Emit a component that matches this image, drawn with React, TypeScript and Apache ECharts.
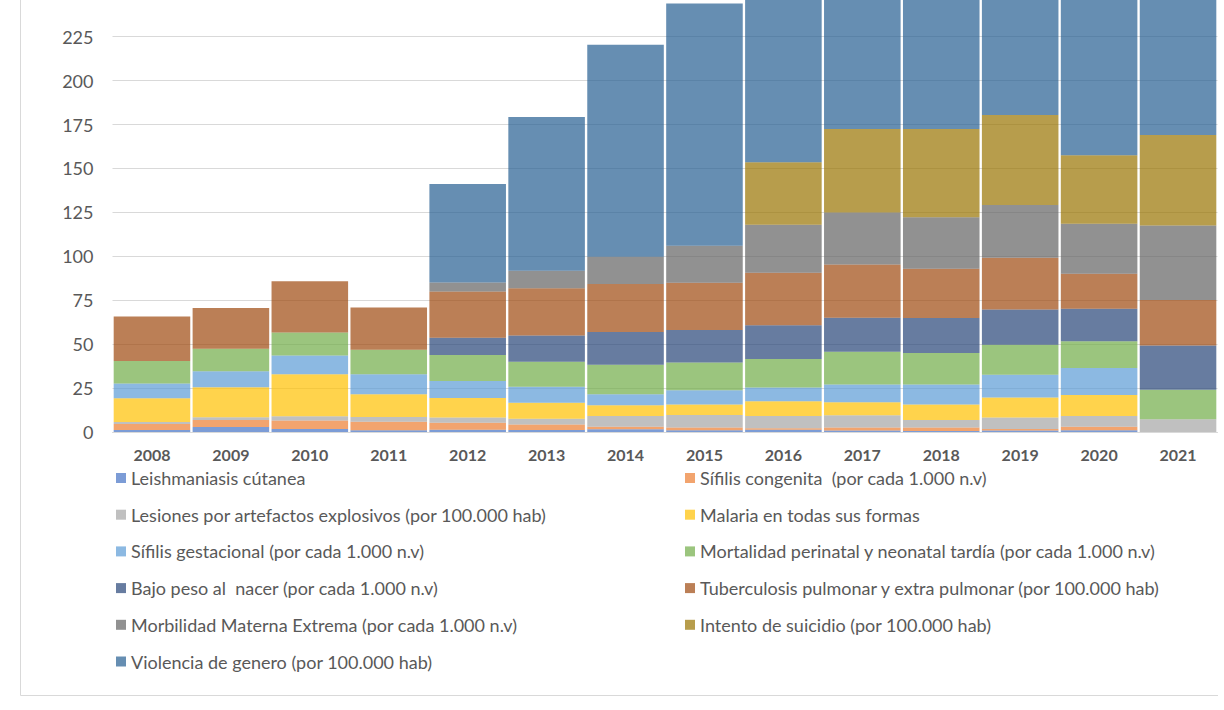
import React, { useEffect, useRef } from "react";
import * as echarts from "echarts";

const years = ["2008", "2009", "2010", "2011", "2012", "2013", "2014", "2015", "2016", "2017", "2018", "2019", "2020", "2021"];

const leishmaniasis = [1.2, 2.9, 1.7, 1.0, 1.3, 1.1, 1.5, 1.0, 1.3, 0.8, 0.6, 0.9, 1.0, 0];
const sifilisCongenita = [3.4, 4.0, 4.9, 4.8, 4.0, 3.1, 1.5, 1.5, 0.8, 1.7, 1.9, 0.8, 2.0, 0];
const lesiones = [1.1, 1.5, 2.3, 2.7, 2.9, 3.4, 6.1, 7.2, 7.0, 7.0, 4.4, 6.5, 6.1, 7.2];
const malaria = [13.5, 17.1, 24.0, 13.0, 11.2, 9.0, 6.1, 5.9, 8.4, 7.5, 8.7, 11.4, 11.9, 0];
const sifilisGestacional = [8.4, 9.1, 10.7, 11.4, 9.6, 9.1, 6.3, 8.2, 7.8, 10.0, 11.4, 13.0, 15.4, 0];
const mortalidad = [12.8, 12.8, 13.1, 13.9, 14.8, 14.3, 16.8, 15.8, 16.2, 18.7, 17.9, 17.1, 15.2, 16.8];
const bajoPeso = [0, 0, 0, 0, 9.9, 15.0, 18.6, 18.5, 19.2, 19.4, 20.0, 20.1, 18.5, 25.3];
const tuberculosis = [25.3, 23.2, 29.1, 24.0, 26.3, 26.8, 27.4, 26.8, 29.9, 30.3, 28.0, 29.4, 20.0, 25.9];
const morbilidad = [0, 0, 0, 0, 5.1, 10.0, 15.5, 21.1, 27.4, 29.5, 29.3, 30.0, 28.5, 42.3];
const intentoSuicidio = [0, 0, 0, 0, 0, 0, 0, 0, 35.6, 47.6, 50.3, 51.3, 39.0, 51.5];
const violencia = [0, 0, 0, 0, 56.0, 87.5, 120.6, 137.9, 125.0, 115.0, 118.0, 110.0, 132.0, 120.0];

const seriesNames = [
  "Leishmaniasis cútanea",
  "Sífilis congenita  (por cada 1.000 n.v)",
  "Lesiones por artefactos explosivos (por 100.000 hab)",
  "Malaria en todas sus formas",
  "Sífilis gestacional (por cada 1.000 n.v)",
  "Mortalidad perinatal y neonatal tardía (por cada 1.000 n.v)",
  "Bajo peso al  nacer (por cada 1.000 n.v)",
  "Tuberculosis pulmonar y extra pulmonar (por 100.000 hab)",
  "Morbilidad Materna Extrema (por cada 1.000 n.v)",
  "Intento de suicidio (por 100.000 hab)",
  "Violencia de genero (por 100.000 hab)",
];
const seriesValues = [
  leishmaniasis, sifilisCongenita, lesiones, malaria, sifilisGestacional,
  mortalidad, bajoPeso, tuberculosis, morbilidad, intentoSuicidio, violencia,
];
const colors = [
  "#4472C4", "#ED7D31", "#A5A5A5", "#FFC000", "#5B9BD5",
  "#70AD47", "#264478", "#9E480E", "#636363", "#997300", "#255E91",
];
const yTicks = { min: 0, max: 250, interval: 25 };

const OFF = 100;
const FONT = "Lato, 'Liberation Sans', sans-serif";

export default function App() {
  const ref = useRef<HTMLDivElement>(null);
  useEffect(() => {
    const chart = echarts.init(ref.current!, null, { renderer: "svg" });
    const legendBase = {
      orient: "vertical",
      top: 563,
      itemWidth: 10,
      itemHeight: 10,
      itemGap: 16.7,
      icon: "rect",
      textStyle: { fontSize: 18, lineHeight: 20, color: "#595959", fontFamily: FONT },
    };
    chart.setOption({
      animation: false,
      color: colors,
      grid: { left: 112.5, right: 6.5, top: 92.8, bottom: 278, containLabel: false },
      xAxis: {
        type: "category",
        data: years,
        axisTick: { show: false },
        axisLine: { lineStyle: { color: "#d9d9d9" } },
        axisLabel: { fontSize: 16, fontWeight: "bold", color: "#595959", margin: 14, fontFamily: FONT },
      },
      yAxis: {
        type: "value",
        min: yTicks.min,
        max: yTicks.max,
        interval: yTicks.interval,
        axisLine: { show: false },
        axisTick: { show: false },
        splitLine: { lineStyle: { color: "#d9d9d9" } },
        axisLabel: { fontSize: 18, color: "#595959", margin: 19, fontFamily: FONT, showMaxLabel: false },
      },
      legend: [
        { ...legendBase, left: 111, data: seriesNames.filter((_, i) => i % 2 === 0) },
        { ...legendBase, left: 680, data: seriesNames.filter((_, i) => i % 2 === 1) },
      ],
      graphic: [
        {
          type: "polyline",
          shape: { points: [[20.5, 0], [20.5, 795.5], [1218, 795.5]] },
          style: { stroke: "#d9d9d9", fill: null, lineWidth: 1 },
          silent: true,
        },
      ],
      series: seriesNames.map((name, i) => ({
        name,
        type: "bar",
        stack: "total",
        barCategoryGap: "3%",
        data: seriesValues[i],
        itemStyle: { color: colors[i], opacity: 0.7 },
      })),
    });
    return () => chart.dispose();
  }, []);
  return (
    <div style={{ position: "fixed", left: 0, top: 0, width: 1224, height: 710, overflow: "hidden", background: "#fff" }}>
      <div ref={ref} style={{ position: "absolute", left: 0, top: -OFF, width: 1224, height: 710 + OFF }} />
    </div>
  );
}
